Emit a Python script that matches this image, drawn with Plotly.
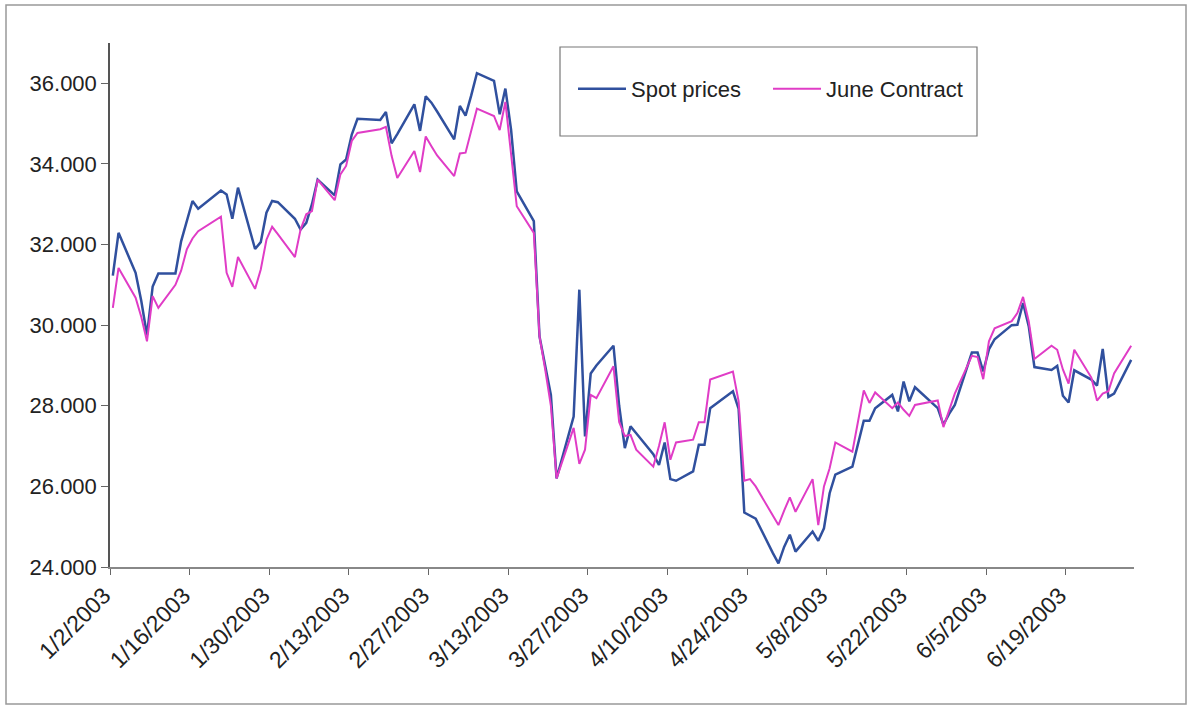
import plotly.graph_objects as go
import pandas as pd

dates = [
    "2003-01-02","2003-01-03","2003-01-06","2003-01-07","2003-01-08","2003-01-09","2003-01-10",
    "2003-01-13","2003-01-14","2003-01-15","2003-01-16","2003-01-17","2003-01-21","2003-01-22",
    "2003-01-23","2003-01-24","2003-01-27","2003-01-28","2003-01-29","2003-01-30","2003-01-31",
    "2003-02-03","2003-02-04","2003-02-05","2003-02-06","2003-02-07","2003-02-10","2003-02-11",
    "2003-02-12","2003-02-13","2003-02-14","2003-02-18","2003-02-19","2003-02-20","2003-02-21",
    "2003-02-24","2003-02-25","2003-02-26","2003-02-27","2003-02-28",
    "2003-03-03","2003-03-04","2003-03-05","2003-03-06","2003-03-07","2003-03-10","2003-03-11",
    "2003-03-12","2003-03-13","2003-03-14","2003-03-17","2003-03-18","2003-03-19","2003-03-20",
    "2003-03-21","2003-03-24","2003-03-25","2003-03-26","2003-03-27","2003-03-28","2003-03-31",
    "2003-04-01","2003-04-02","2003-04-03","2003-04-04","2003-04-07","2003-04-08","2003-04-09",
    "2003-04-10","2003-04-11","2003-04-14","2003-04-15","2003-04-16","2003-04-17","2003-04-21",
    "2003-04-22","2003-04-23","2003-04-24","2003-04-25","2003-04-28","2003-04-29","2003-04-30",
    "2003-05-01","2003-05-02","2003-05-05","2003-05-06","2003-05-07","2003-05-08","2003-05-09",
    "2003-05-12","2003-05-13","2003-05-14","2003-05-15","2003-05-16","2003-05-19","2003-05-20",
    "2003-05-21","2003-05-22","2003-05-23","2003-05-27","2003-05-28","2003-05-29","2003-05-30",
    "2003-06-02","2003-06-03","2003-06-04","2003-06-05","2003-06-06","2003-06-09","2003-06-10",
    "2003-06-11","2003-06-12","2003-06-13","2003-06-16","2003-06-17","2003-06-18","2003-06-19",
    "2003-06-20","2003-06-23","2003-06-24","2003-06-25","2003-06-26","2003-06-27","2003-06-30",
]

spot_prices = [
    31.23, 32.29, 31.30, 30.60, 29.75, 30.96, 31.28,
    31.28, 32.08, 32.58, 33.08, 32.89, 33.34, 33.24,
    32.64, 33.41, 31.89, 32.06, 32.79, 33.08, 33.05,
    32.64, 32.37, 32.54, 33.00, 33.61, 33.22, 33.99,
    34.11, 34.73, 35.12, 35.09, 35.29, 34.51, 34.74,
    35.48, 34.82, 35.68, 35.52, 35.30,
    34.61, 35.44, 35.20, 35.70, 36.25, 36.06, 35.23,
    35.87, 34.85, 33.32, 32.58, 29.72, 29.00, 28.27,
    26.20, 27.73, 30.88, 27.24, 28.80, 29.00, 29.49,
    28.00, 26.95, 27.49, 27.32, 26.80, 26.53, 27.09,
    26.18, 26.14, 26.37, 27.03, 27.03, 27.94, 28.36,
    27.92, 25.35, 25.28, 25.20, 24.35, 24.09, 24.50,
    24.80, 24.38, 24.88, 24.65, 24.96, 25.83, 26.29,
    26.49, 27.10, 27.63, 27.63, 27.94, 28.27, 27.86,
    28.60, 28.11, 28.46, 27.94, 27.53, 27.80, 28.02,
    29.32, 29.32, 28.85, 29.40, 29.65, 30.00, 30.01,
    30.55, 29.97, 28.96, 28.89, 28.99, 28.25, 28.08,
    28.88, 28.65, 28.50, 29.41, 28.22, 28.30, 29.14,
]

june_contract = [
    30.43, 31.42, 30.68, 30.20, 29.60, 30.72, 30.43,
    31.00, 31.35, 31.88, 32.15, 32.33, 32.69, 31.30,
    30.95, 31.69, 30.90, 31.38, 32.12, 32.44, 32.26,
    31.69, 32.37, 32.75, 32.83, 33.61, 33.10, 33.74,
    33.95, 34.57, 34.77, 34.86, 34.92, 34.20, 33.65,
    34.32, 33.80, 34.68, 34.44, 34.21,
    33.70, 34.26, 34.28, 34.80, 35.37, 35.19, 34.84,
    35.54, 34.30, 32.95, 32.29, 29.72, 28.90, 28.00,
    26.20, 27.45, 26.56, 26.91, 28.27, 28.19, 28.98,
    27.60, 27.25, 27.28, 26.91, 26.49, 27.00, 27.59,
    26.66, 27.09, 27.16, 27.59, 27.59, 28.65, 28.85,
    28.11, 26.14, 26.18, 26.00, 25.30, 25.04, 25.40,
    25.73, 25.37, 26.18, 25.04, 26.00, 26.45, 27.09,
    26.86, 27.60, 28.38, 28.07, 28.33, 27.94, 28.08,
    27.90, 27.75, 28.02, 28.13, 27.47, 27.90, 28.30,
    29.24, 29.21, 28.66, 29.60, 29.92, 30.10, 30.30,
    30.70, 30.09, 29.16, 29.49, 29.39, 28.90, 28.55,
    29.39, 28.70, 28.13, 28.30, 28.36, 28.80, 29.49,
]

tick_dates = ["2003-01-02","2003-01-16","2003-01-30","2003-02-13","2003-02-27","2003-03-13",
              "2003-03-27","2003-04-10","2003-04-24","2003-05-08","2003-05-22","2003-06-05","2003-06-19"]
tick_labels = ["1/2/2003","1/16/2003","1/30/2003","2/13/2003","2/27/2003","3/13/2003",
               "3/27/2003","4/10/2003","4/24/2003","5/8/2003","5/22/2003","6/5/2003","6/19/2003"]

# points sit in the middle of each day slot (Excel date axis, between tick marks)
x = pd.to_datetime(dates) + pd.Timedelta(hours=12)

BLUE = "#30509e"
PINK = "#e03cc6"

fig = go.Figure()
fig.add_trace(go.Scatter(x=x, y=spot_prices, mode="lines", name="Spot prices",
                         line=dict(color=BLUE, width=2.5), legend="legend"))
fig.add_trace(go.Scatter(x=x, y=june_contract, mode="lines", name="June Contract",
                         line=dict(color=PINK, width=2), legend="legend2"))

W, H = 1193, 709
L, R, T, B = 110, 59, 43, 142
pw = W - L - R
ph = H - T - B


def px_x(v):
    return (v - L) / pw


def px_y(v):
    return 1 - (v - T) / ph


legend_common = dict(
    orientation="h", y=px_y(89), xanchor="left", yanchor="middle",
    bgcolor="rgba(0,0,0,0)", borderwidth=0,
    font=dict(size=22, color="#222222"),
    itemwidth=48,
)

fig.update_layout(
    width=W, height=H,
    margin=dict(l=L, r=R, t=T, b=B, autoexpand=False),
    paper_bgcolor="white", plot_bgcolor="white",
    font=dict(family="Liberation Sans, Arial, sans-serif", size=20, color="#222222"),
    showlegend=True,
    legend=dict(x=px_x(573), **legend_common),
    legend2=dict(x=px_x(768), **legend_common),
    xaxis=dict(
        type="date",
        range=["2003-01-02", "2003-07-01"],
        tickvals=pd.to_datetime(tick_dates), ticktext=tick_labels,
        tickangle=-45,
        ticks="outside", ticklen=6, tickcolor="#666666",
        ticklabelshift=-6, ticklabelstandoff=-2,
        showline=True, linecolor="#888888", linewidth=2,
        showgrid=False, zeroline=False,
        tickfont=dict(size=23, color="#222222"),
    ),
    yaxis=dict(
        range=[24, 37],
        tickvals=[24, 26, 28, 30, 32, 34, 36],
        tickformat=".3f",
        ticks="outside", ticklen=7, tickcolor="#666666",
        showline=True, linecolor="#555555", linewidth=1.5,
        showgrid=False, zeroline=False,
        tickfont=dict(size=22, color="#222222"),
    ),
)

# legend frame
fig.add_shape(type="rect", xref="paper", yref="paper",
              x0=px_x(560), x1=px_x(977), y0=px_y(136), y1=px_y(47),
              line=dict(color="#777777", width=1.2), fillcolor="white", layer="below")

# outer chart frame
fig.add_shape(type="rect", xref="paper", yref="paper",
              x0=px_x(6), x1=px_x(1186), y0=px_y(704), y1=px_y(5),
              line=dict(color="#999999", width=1.5), fillcolor="rgba(0,0,0,0)", layer="below")

fig.write_html("out.html")
